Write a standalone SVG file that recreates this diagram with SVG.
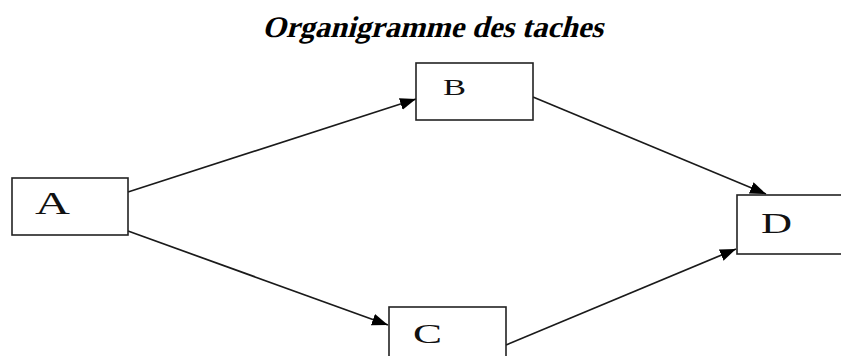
<svg xmlns="http://www.w3.org/2000/svg" width="841" height="356" viewBox="0 0 841 356">
<style>
.box{fill:#fff;stroke:#222;stroke-width:1.6}
.lbl{font-family:"Liberation Serif",serif;fill:#111}
.edge{stroke:#1a1a1a;stroke-width:1.7;fill:none;marker-end:url(#ah)}
.title{font-family:"Liberation Serif",serif;font-weight:bold;font-size:30px;fill:#000}
</style>
<defs>
<marker id="ah" markerUnits="userSpaceOnUse" markerWidth="18" markerHeight="14" refX="16" refY="7" orient="auto">
<path d="M0,1 L16,7 L0,13 z" fill="#000"/>
</marker>
</defs>
<rect width="841" height="356" fill="#fff"/>
<text class="title" transform="translate(262,37) skewX(-15)" x="0" y="0" textLength="341" lengthAdjust="spacingAndGlyphs">Organigramme des taches</text>
<g id="connectors">
<line class="edge" x1="128" y1="192" x2="416" y2="99"/>
<line class="edge" x1="128" y1="231" x2="388" y2="325"/>
<line class="edge" x1="533" y1="97" x2="766" y2="194"/>
<line class="edge" x1="506" y1="345" x2="736" y2="249"/>
</g>
<g id="A">
<rect class="box" x="12" y="178" width="116" height="57"/>
<text class="lbl" x="35" y="214" font-size="31" textLength="35" lengthAdjust="spacingAndGlyphs">A</text>
</g>
<g id="B">
<rect class="box" x="416" y="63" width="117" height="57"/>
<text class="lbl" x="443" y="95" font-size="24" textLength="23" lengthAdjust="spacingAndGlyphs">B</text>
</g>
<g id="C">
<rect class="box" x="389" y="307" width="117" height="70"/>
<text class="lbl" x="413" y="343" font-size="28" textLength="29" lengthAdjust="spacingAndGlyphs">C</text>
</g>
<g id="D">
<rect class="box" x="737" y="195" width="130" height="59"/>
<text class="lbl" x="761" y="233" font-size="30" textLength="31" lengthAdjust="spacingAndGlyphs">D</text>
</g>
</svg>
